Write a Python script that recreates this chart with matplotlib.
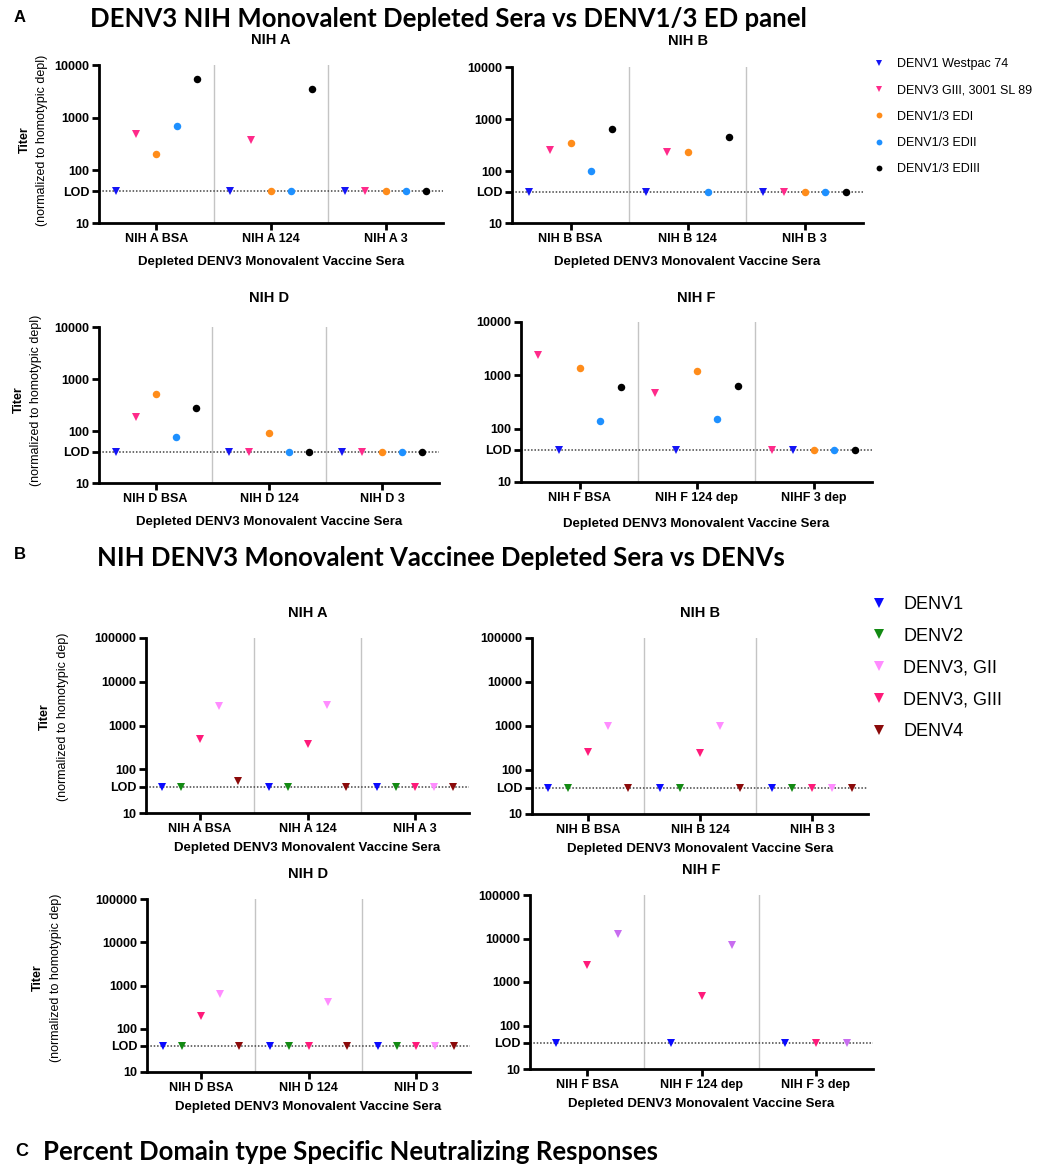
import numpy as np
import matplotlib.pyplot as plt
from matplotlib.lines import Line2D
from matplotlib.ticker import NullLocator

# %% figure size in pixels
W, H = 1042, 1167
LOD = 40

# %% panel A: DENV1/3 ED panel titers (rows = strain, cols = BSA / 124 / 3)
ed_names = ['DENV1 Westpac 74', 'DENV3 GIII, 3001 SL 89', 'DENV1/3 EDI',
            'DENV1/3 EDII', 'DENV1/3 EDIII']
ed_colors = ['#1414f5', '#ff2a8a', '#ff8c1a', '#1e90ff', '#000000']
ed_markers = ['v', 'v', 'o', 'o', 'o']

ed_nih_a = [[40, 40, 40], [480, 380, 40], [200, 40, 40], [680, 40, 40],
            [5400, 3500, 40]]
ed_nih_b = [[40, 40, 40], [250, 230, 40], [350, 230, 40], [100, 40, 40],
            [630, 460, 40]]
ed_nih_d = [[40, 40, 40], [190, 40, 40], [520, 90, 40], [78, 40, 40],
            [280, 40, 40]]
ed_nih_f = [[40, 40, 40], [2400, 460, 40], [1400, 1200, 40], [140, 150, 40],
            [600, 620, 40]]

# %% panel B: DENV serotype titers (None = not tested)
denv_names = ['DENV1', 'DENV2', 'DENV3, GII', 'DENV3, GIII', 'DENV4']
denv_colors = ['#0a0aff', '#138a13', '#ff8cff', '#ff1a7a', '#8b0a0a']

denv_nih_a = [[40, 40, 40], [40, 40, 40], [2800, 2900, 40], [500, 380, 40],
              [55, 40, 40]]
denv_nih_b = [[40, 40, 40], [40, 40, 40], [1000, 1000, 40], [260, 240, 40],
              [40, 40, 40]]
denv_nih_d = [[40, 40, 40], [40, 40, 40], [640, 420, 40], [200, 40, 40],
              [40, 40, 40]]
denv_nih_f = [[40, 40, 40], None, [13000, 7000, 40], [2500, 480, 40], None]

# %% style
tick_font = dict(family='Liberation Sans', weight='bold')
title_font = ['Lato', 'DejaVu Sans']
plt.rcParams['font.family'] = ['Liberation Sans', 'DejaVu Sans']


def px_axes(fig, left, top, right, bottom):
    return fig.add_axes([left / W, 1 - bottom / H, (right - left) / W,
                         (bottom - top) / H])


def draw_panel(fig, rect, title, title_y, cats, data, order, colors, markers,
               ymax, step, ms, xlabel_pad=4, override=None):
    ax = px_axes(fig, *rect)
    ax.set_yscale('log')
    ax.set_ylim(10, ymax)
    ax.set_xlim(-0.5, len(cats) - 0.5)
    for d in np.arange(0.5, len(cats) - 0.5, 1.0):
        ax.axvline(d, color='#c4c4c4', lw=1, zorder=1)
    ax.axhline(LOD, color='#444444', ls=(0, (1, 1.2)), lw=1.1, zorder=2)
    n = len(order)
    offs = (np.arange(n) - (n - 1) / 2) * step
    for k, si in enumerate(order):
        vals = data[si]
        if vals is None:
            continue
        col = colors[si] if override is None else override.get(si, colors[si])
        ax.plot(np.arange(len(cats)) + offs[k], vals, ls='none',
                marker=markers[si], ms=ms, color=col, mew=0, zorder=3,
                clip_on=False)
    yt = [10, LOD, 100, 1000, 10000, 100000]
    yt = [v for v in yt if v <= ymax]
    ax.yaxis.set_minor_locator(NullLocator())
    ax.set_yticks(yt)
    ax.set_yticklabels(['LOD' if v == LOD else str(v) for v in yt],
                       fontsize=9, **tick_font)
    ax.set_xticks(range(len(cats)))
    ax.set_xticklabels(cats, fontsize=9, **tick_font)
    ax.set_xlabel('Depleted DENV3 Monovalent Vaccine Sera', fontsize=9.5,
                  labelpad=xlabel_pad, **tick_font)
    fig.text((rect[0] + rect[2]) / 2 / W, 1 - title_y / H, title,
             fontsize=10.5, ha='center', va='center', **tick_font)
    for s in ['top', 'right']:
        ax.spines[s].set_visible(False)
    for s in ['left', 'bottom']:
        ax.spines[s].set_linewidth(2)
    ax.tick_params(width=2, length=5, pad=2, direction='out')
    return ax


def ylabel(fig, x1, x2, yc, text):
    fig.text(x1 / W, 1 - yc / H, 'Titer', rotation=90, ha='center',
             va='center', fontsize=9, weight='bold')
    fig.text(x2 / W, 1 - yc / H, text, rotation=90, ha='center',
             va='center', fontsize=9)


fig = plt.figure(figsize=(W / 100, H / 100), dpi=100)

# %% panel A
fig.text(20 / W, 1 - 18 / H, 'A', fontsize=12, weight='bold',
         ha='center', va='center')
fig.text(448 / W, 1 - 19 / H,
         'DENV3 NIH Monovalent Depleted Sera vs DENV1/3 ED panel',
         fontsize=18.5, weight='bold', family=title_font, ha='center',
         va='center')

ed_order = [0, 1, 2, 3, 4]
draw_panel(fig, (99, 65, 443, 223), 'NIH A', 40,
           ['NIH A BSA', 'NIH A 124', 'NIH A 3'], ed_nih_a, ed_order,
           ed_colors, ed_markers, 10000, 0.177, 5.4, xlabel_pad=8)
draw_panel(fig, (512, 67, 863, 223), 'NIH B', 41,
           ['NIH B BSA', 'NIH B 124', 'NIH B 3'], ed_nih_b, ed_order,
           ed_colors, ed_markers, 10000, 0.177, 5.4, xlabel_pad=8)
draw_panel(fig, (99, 327, 439, 483), 'NIH D', 298,
           ['NIH D BSA', 'NIH D 124', 'NIH D 3'], ed_nih_d, ed_order,
           ed_colors, ed_markers, 10000, 0.177, 5.4, xlabel_pad=8)
draw_panel(fig, (521, 322, 872, 482), 'NIH F', 298,
           ['NIH F BSA', 'NIH F 124 dep', 'NIHF 3 dep'], ed_nih_f,
           [1, 0, 2, 3, 4], ed_colors, ed_markers, 10000, 0.177, 5.4,
           xlabel_pad=10)
ylabel(fig, 25, 42, 140, '(normalized to homotypic depl)')
ylabel(fig, 19, 36, 400, '(normalized to homotypic depl)')

h_a = [Line2D([], [], ls='none', marker=m, color=c, ms=4.2, mew=0)
       for m, c in zip(ed_markers, ed_colors)]
fig.legend(h_a, ed_names, loc='upper left',
           bbox_to_anchor=(873 / W, 1 - 58 / H), frameon=False, fontsize=9,
           handlelength=1.0, handletextpad=0.9, labelspacing=1.15,
           borderaxespad=0, borderpad=0)

# %% panel B
fig.text(20 / W, 1 - 555 / H, 'B', fontsize=12, weight='bold',
         ha='center', va='center')
fig.text(441 / W, 1 - 558 / H,
         'NIH DENV3 Monovalent Vaccinee Depleted Sera vs DENVs',
         fontsize=18.5, weight='bold', family=title_font, ha='center',
         va='center')

denv_markers = ['v'] * 5
denv_order = [0, 1, 3, 2, 4]
draw_panel(fig, (146, 638, 469, 813), 'NIH A', 613,
           ['NIH A BSA', 'NIH A 124', 'NIH A 3'], denv_nih_a, denv_order,
           denv_colors, denv_markers, 100000, 0.177, 6, xlabel_pad=5)
draw_panel(fig, (532, 638, 868, 814), 'NIH B', 613,
           ['NIH B BSA', 'NIH B 124', 'NIH B 3'], denv_nih_b, denv_order,
           denv_colors, denv_markers, 100000, 0.177, 6, xlabel_pad=5)
draw_panel(fig, (147, 899, 470, 1072), 'NIH D', 874,
           ['NIH D BSA', 'NIH D 124', 'NIH D 3'], denv_nih_d, denv_order,
           denv_colors, denv_markers, 100000, 0.177, 6, xlabel_pad=5)
draw_panel(fig, (530, 895, 873, 1069), 'NIH F', 870,
           ['NIH F BSA', 'NIH F 124 dep', 'NIH F 3 dep'], denv_nih_f,
           [0, 3, 2], denv_colors, denv_markers, 100000, 0.27, 6,
           xlabel_pad=5, override={2: '#c86cf0'})
ylabel(fig, 45, 63, 717, '(normalized to homotypic dep)')
ylabel(fig, 38, 56, 978, '(normalized to homotypic dep)')

h_b = [Line2D([], [], ls='none', marker='v', color=c, ms=6.5, mew=0)
       for c in denv_colors]
fig.legend(h_b, denv_names, loc='upper left',
           bbox_to_anchor=(870 / W, 1 - 596 / H), frameon=False, fontsize=13,
           handlelength=1.0, handletextpad=0.85, labelspacing=0.82,
           borderaxespad=0, borderpad=0)

# %% panel C header
fig.text(22 / W, 1 - 1152 / H, 'C', fontsize=13, weight='bold',
         ha='center', va='center')
fig.text(43 / W, 1 - 1152 / H,
         'Percent Domain type Specific Neutralizing Responses',
         fontsize=18.5, weight='bold', family=title_font, ha='left',
         va='center')

fig.savefig('out.png', dpi=100)
